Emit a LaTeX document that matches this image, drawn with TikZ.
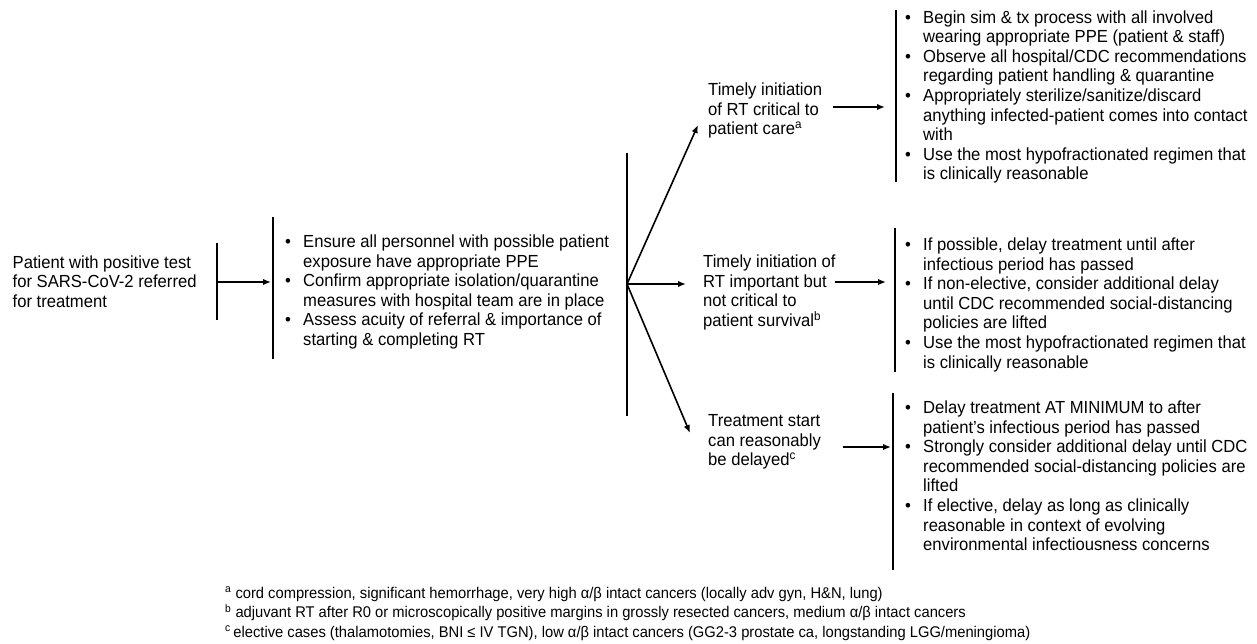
\documentclass[tikz,border=0pt]{standalone}
\usepackage{fontspec}
\setmainfont{Liberation Sans}[FakeStretch=0.95]
\usetikzlibrary{arrows.meta}
\newcommand{\bitem}{\makebox[18pt][l]{•}}
\newcommand{\bcont}{\hspace*{18pt}}
\newcommand{\mlines}[1]{\parbox[t]{430pt}{\raggedright #1}}
\begin{document}
\begin{tikzpicture}[x=1pt,y=-1pt,
  txt/.style={inner sep=0pt, anchor=base west, font=\fontsize{17.5}{19.6}\selectfont},
  fnt/.style={inner sep=0pt, anchor=base west, font=\fontsize{15.5}{19.5}\selectfont},
  bar/.style={line width=2pt},
  arr/.style={line width=1.6pt, -{Latex[length=8pt,width=6.5pt]}}]
\useasboundingbox[fill=white] (0,0) rectangle (1257,643);

% text nodes
\node[txt] (pat) at (12.5,268) {\mlines{Patient with positive test\\for SARS-CoV-2 referred\\for treatment}};
\node[txt] (l2) at (285,247.5) {\mlines{\bitem Ensure all personnel with possible patient\\
\bcont exposure have appropriate PPE\\
\bitem Confirm appropriate isolation/quarantine\\
\bcont measures with hospital team are in place\\
\bitem Assess acuity of referral \& importance of\\
\bcont starting \& completing RT}};
\node[txt] (t1) at (708,95.5) {\mlines{Timely initiation\\of RT critical to\\patient care\textsuperscript{a}}};
\node[txt] (t2) at (703,267.5) {\mlines{Timely initiation of\\RT important but\\not critical to\\patient survival\textsuperscript{b}}};
\node[txt] (t3) at (708,426.5) {\mlines{Treatment start\\can reasonably\\be delayed\textsuperscript{c}}};
\node[txt] (l4a) at (905,23) {\mlines{\bitem Begin sim \& tx process with all involved\\
\bcont wearing appropriate PPE (patient \& staff)\\
\bitem Observe all hospital/CDC recommendations\\
\bcont regarding patient handling \& quarantine\\
\bitem Appropriately sterilize/sanitize/discard\\
\bcont anything infected-patient comes into contact\\
\bcont with\\
\bitem Use the most hypofractionated regimen that\\
\bcont is clinically reasonable}};
\node[txt] (l4b) at (905,250.5) {\mlines{\bitem If possible, delay treatment until after\\
\bcont infectious period has passed\\
\bitem If non-elective, consider additional delay\\
\bcont until CDC recommended social-distancing\\
\bcont policies are lifted\\
\bitem Use the most hypofractionated regimen that\\
\bcont is clinically reasonable}};
\node[txt] (l4c) at (905,413.5) {\mlines{\bitem Delay treatment AT MINIMUM to after\\
\bcont patient’s infectious period has passed\\
\bitem Strongly consider additional delay until CDC\\
\bcont recommended social-distancing policies are\\
\bcont lifted\\
\bitem If elective, delay as long as clinically\\
\bcont reasonable in context of evolving\\
\bcont environmental infectiousness concerns}};
\node[fnt] (fn) at (225,598) {\parbox[t]{1000pt}{\raggedright
\textsuperscript{a} cord compression, significant hemorrhage, very high α/β intact cancers (locally adv gyn, H\&N, lung)\\
\textsuperscript{b} adjuvant RT after R0 or microscopically positive margins in grossly resected cancers, medium α/β intact cancers\\
\textsuperscript{c}\,elective cases (thalamotomies, BNI ≤ IV TGN), low α/β intact cancers (GG2-3 prostate ca, longstanding LGG/meningioma)}};

% bars
\coordinate (b1t) at (217,243); \coordinate (b1b) at (217,320);
\coordinate (b2t) at (273,217); \coordinate (b2b) at (273,359);
\coordinate (b3t) at (627,153); \coordinate (b3b) at (627,416);
\coordinate (b4at) at (896,10); \coordinate (b4ab) at (896,182);
\coordinate (b4bt) at (895,228); \coordinate (b4bb) at (895,372);
\coordinate (b4ct) at (893,393); \coordinate (b4cb) at (893,570);
\draw[bar] (b1t) -- (b1b);
\draw[bar] (b2t) -- (b2b);
\draw[bar] (b3t) -- (b3b);
\draw[bar] (b4at) -- (b4ab);
\draw[bar] (b4bt) -- (b4bb);
\draw[bar] (b4ct) -- (b4cb);

% arrows
\coordinate (b1o) at (218,282); \coordinate (b2i) at (271,282);
\coordinate (b3o) at (627,284);
\coordinate (t1i) at (698,125); \coordinate (t2i) at (686,284); \coordinate (t3i) at (690,433);
\coordinate (t1o) at (833,107); \coordinate (a4i) at (885,107);
\coordinate (t2o) at (835,282); \coordinate (b4bi) at (886,282);
\coordinate (t3o) at (843,447); \coordinate (b4ci) at (891,447);
\draw[arr] (b1o) -- (b2i);
\draw[arr] (b3o) -- (t1i);
\draw[arr] (b3o) -- (t2i);
\draw[arr] (b3o) -- (t3i);
\draw[arr] (t1o) -- (a4i);
\draw[arr] (t2o) -- (b4bi);
\draw[arr] (t3o) -- (b4ci);
\end{tikzpicture}
\end{document}
